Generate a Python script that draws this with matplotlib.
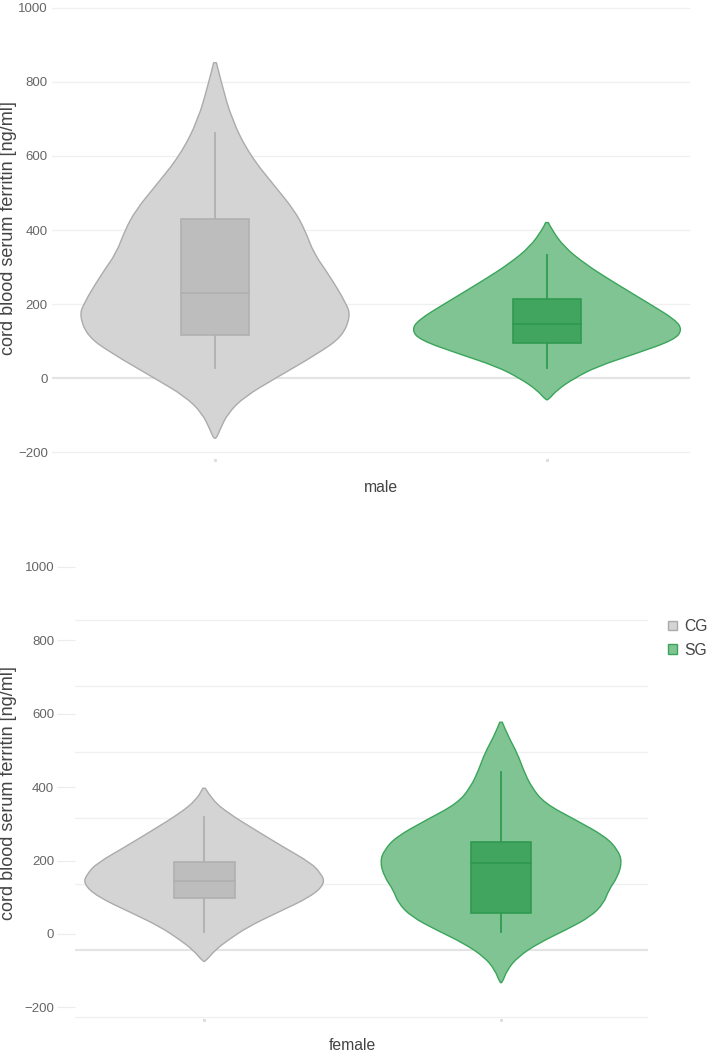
import numpy as np
import matplotlib
matplotlib.use("Agg")
import matplotlib.pyplot as plt
from matplotlib.path import Path
from matplotlib.patches import PathPatch, Rectangle, Patch

plt.rcParams['font.family'] = ['Liberation Sans', 'DejaVu Sans']

# ---------------- data ----------------
groups = ["CG", "SG"]
panels = ["male", "female"]
y_ticks = [-200, 0, 200, 400, 600, 800, 1000]

# box statistics: lower whisker, q1, median, q3, upper whisker
male_cg_box = [27, 116, 230, 430, 662]
male_sg_box = [27, 95, 146, 214, 332]
female_cg_box = [5, 98, 144, 196, 319]
female_sg_box = [5, 57, 193, 251, 441]

# violin outlines: value and relative half-width (0..1)
male_cg_vals = [852, 801, 697, 601, 517, 454, 400, 337, 283, 199, 166, 112, 67, -1, -50, -95, -141, -163]
male_cg_wid = [0.01, 0.045, 0.125, 0.26, 0.445, 0.585, 0.665, 0.73, 0.835, 0.975, 1.0, 0.94, 0.765, 0.445, 0.22, 0.095, 0.035, 0.01]

male_sg_vals = [420, 400, 355, 310, 265, 200, 157, 130, 103, 67, 31, -1, -32, -59]
male_sg_wid = [0.01, 0.037, 0.125, 0.275, 0.465, 0.76, 0.95, 1.0, 0.94, 0.665, 0.37, 0.2, 0.075, 0.01]

female_cg_vals = [397, 365, 329, 283, 238, 193, 165, 138, 102, 56, 20, -16, -44, -75]
female_cg_wid = [0.01, 0.067, 0.2, 0.425, 0.65, 0.885, 0.965, 1.0, 0.885, 0.59, 0.365, 0.2, 0.09, 0.01]

female_sg_vals = [577, 538, 492, 447, 401, 356, 311, 265, 229, 197, 156, 120, 84, 47, 11, -25, -62, -98, -133]
female_sg_wid = [0.01, 0.06, 0.135, 0.185, 0.25, 0.36, 0.615, 0.865, 0.965, 1.0, 0.965, 0.89, 0.85, 0.74, 0.535, 0.31, 0.14, 0.05, 0.01]

# ---------------- styles ----------------
offsets = [-0.2, 0.2]
violin_hw = 0.163
box_hw = 0.041
fill_cols = {"CG": "#d4d4d4", "SG": "#80c494"}
edge_cols = {"CG": "#ababab", "SG": "#3aa55a"}
box_fill = {"CG": "#bdbdbd", "SG": "#41a55f"}
box_edge = {"CG": "#b0b0b0", "SG": "#2f9a4f"}
grid_col = "#f0f0f0"
zero_col = "#e4e4e4"
tick_col = "#666666"
label_col = "#444444"

W, H = 708, 1054
fig = plt.figure(figsize=(W / 100, H / 100), dpi=100)


def ax_rect(l, r, t, b):
    return [l / W, 1 - b / H, (r - l) / W, (b - t) / H]


def smooth_path(xs, ys):
    pts = list(zip(xs, ys))
    verts = [pts[0]]
    codes = [Path.MOVETO]
    for i in range(1, len(pts) - 1):
        mid = ((pts[i][0] + pts[i + 1][0]) / 2, (pts[i][1] + pts[i + 1][1]) / 2)
        verts += [pts[i], mid]
        codes += [Path.CURVE3, Path.CURVE3]
    verts.append(pts[-1])
    codes.append(Path.LINETO)
    verts.append(pts[0])
    codes.append(Path.CLOSEPOLY)
    return Path(verts, codes)


def draw_violin(ax, xc, vals, wid, g):
    vals = np.asarray(vals, float)
    wid = np.asarray(wid, float) * violin_hw
    xs = np.concatenate([xc + wid, (xc - wid)[::-1]])
    ys = np.concatenate([vals, vals[::-1]])
    ax.add_patch(PathPatch(smooth_path(xs, ys), facecolor=fill_cols[g],
                           edgecolor=edge_cols[g], lw=1.0, zorder=3))


def draw_box(ax, xc, stats, g):
    lo, q1, med, q3, hi = stats
    ax.plot([xc, xc], [lo, q1], color=box_edge[g], lw=1.3, zorder=4)
    ax.plot([xc, xc], [q3, hi], color=box_edge[g], lw=1.3, zorder=4)
    ax.add_patch(Rectangle((xc - box_hw, q1), 2 * box_hw, q3 - q1,
                           facecolor=box_fill[g], edgecolor=box_edge[g], lw=1.2, zorder=4))
    ax.plot([xc - box_hw, xc + box_hw], [med, med], color=box_edge[g], lw=1.3, zorder=5)


def style_axes(ax, label, ylim, xlim, xpad, fake_grid=None, ticks=False):
    ax.set_xlim(*xlim)
    ax.set_ylim(*ylim)
    for s in ax.spines.values():
        s.set_visible(False)
    ax.set_yticks(y_ticks)
    ax.set_yticklabels([str(v).replace("-", "\u2212") for v in y_ticks])
    if ticks:
        ax.tick_params(axis='y', length=13, width=0.8, color="#ececec", pad=2,
                       labelsize=9.5, labelcolor=tick_col)
    else:
        ax.tick_params(axis='y', length=0, pad=3, labelsize=9.5, labelcolor=tick_col)
    ax.set_xticks([0])
    ax.set_xticklabels([label])
    ax.tick_params(axis='x', length=0, pad=xpad, labelsize=11.3, labelcolor=label_col)
    ax.set_ylabel("cord blood serum ferritin [ng/ml]", fontsize=13, color=label_col)
    if fake_grid is None:
        for v in y_ticks:
            ax.axhline(v, color=zero_col if v == 0 else grid_col,
                       lw=1.6 if v == 0 else 1.0, zorder=1)
    else:
        for v, z in fake_grid:
            ax.axhline(v, color=zero_col if z else grid_col,
                       lw=1.6 if z else 1.0, zorder=1)
    # tiny category marks under the plot
    ax.plot(offsets, [ylim[0] + 0.01 * (ylim[1] - ylim[0])] * 2, ls='none',
            marker='s', ms=1.2, color="#dddddd", zorder=2, clip_on=False)


# ---------------- top panel: male ----------------
ax1 = fig.add_axes(ax_rect(52, 690, 0, 465))
style_axes(ax1, panels[0], (-235.1, 1021.6), (-0.3964, 0.3723), xpad=11)
ax1.yaxis.set_label_coords((17 - 52) / 638, (465 - 228) / 465)
draw_violin(ax1, offsets[0], male_cg_vals, male_cg_wid, "CG")
draw_violin(ax1, offsets[1], male_sg_vals, male_sg_wid, "SG")
draw_box(ax1, offsets[0], male_cg_box, "CG")
draw_box(ax1, offsets[1], male_sg_box, "SG")

# ---------------- bottom panel: female ----------------
female_grid = [(856, False), (676, False), (496, False), (316, False),
               (136, False), (-44, True), (-226, False)]
ax2 = fig.add_axes(ax_rect(75, 648, 550, 1025))
style_axes(ax2, panels[1], (-248.0, 1046.3), (-0.374, 0.398), xpad=9,
           fake_grid=female_grid, ticks=True)
ax2.yaxis.set_label_coords((17 - 75) / 573, (1025 - 793) / 475)
draw_violin(ax2, offsets[0], female_cg_vals, female_cg_wid, "CG")
draw_violin(ax2, offsets[1], female_sg_vals, female_sg_wid, "SG")
draw_box(ax2, offsets[0], female_cg_box, "CG")
draw_box(ax2, offsets[1], female_sg_box, "SG")

handles = [Patch(facecolor=fill_cols[g], edgecolor=edge_cols[g], lw=1.0) for g in groups]
fig.legend(handles, groups, loc='upper left', bbox_to_anchor=(668 / W, 1 - 619 / H),
           frameon=False, handlelength=0.55, handleheight=0.55, handletextpad=0.5,
           labelspacing=0.55, fontsize=11.3, labelcolor=label_col, borderaxespad=0, borderpad=0)

fig.savefig("out.png", dpi=100)
